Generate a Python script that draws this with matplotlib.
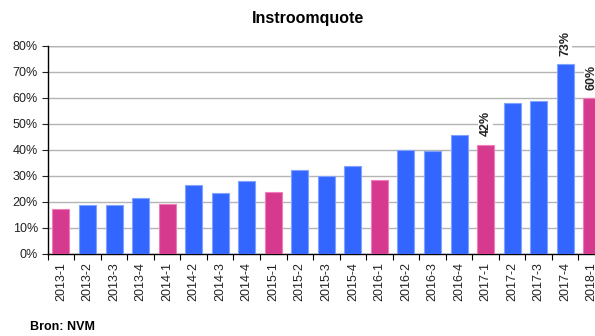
import numpy as np
import matplotlib.pyplot as plt
from matplotlib.ticker import FixedLocator, PercentFormatter

plt.rcParams['font.family'] = ['Liberation Sans', 'DejaVu Sans']

##### Data:

quarters = ['2013-1', '2013-2', '2013-3', '2013-4',
            '2014-1', '2014-2', '2014-3', '2014-4',
            '2015-1', '2015-2', '2015-3', '2015-4',
            '2016-1', '2016-2', '2016-3', '2016-4',
            '2017-1', '2017-2', '2017-3', '2017-4',
            '2018-1']
quote = [17.3, 18.8, 18.8, 21.4,
         19.4, 26.5, 23.3, 28.1,
         23.8, 32.2, 30.1, 34.0,
         28.6, 40.0, 39.6, 45.9,
         42.0, 58.1, 58.7, 73.0,
         60.0]
labelled = ['2017-1', '2017-4', '2018-1']

blue = '#3366FF'
pink = '#D63A8E'

##### Plot:

W, H = 595, 336
fig = plt.figure(figsize=(W / 100, H / 100), dpi=100)
# plot area runs a bit past the right edge, so the last bar is cut off
ax = fig.add_axes([47.7 / W, (H - 254) / H, (605 - 47.7) / W, (254 - 46) / H])

x = np.arange(len(quarters))
colors = [pink if q.endswith('-1') else blue for q in quarters]
edges = ['#F07CB8' if q.endswith('-1') else '#7FA3FF' for q in quarters]
ax.bar(x, quote, width=0.64, color=colors, edgecolor=edges, linewidth=0.8, zorder=3)

for xi, q, v in zip(x, quarters, quote):
    if q in labelled:
        ax.annotate(f'{v:.0f}%', xy=(xi, v), xytext=(0, 6), textcoords='offset points',
                    rotation=90, ha='center', va='bottom', fontsize=9,
                    fontweight='bold', color='#222222', annotation_clip=False,
                    bbox=dict(boxstyle='square,pad=0.1', fc='white', ec='none'),
                    zorder=4)

ax.set_xlim(-0.5, len(quarters) - 0.5)
ax.set_ylim(0, 80)
ax.yaxis.set_major_locator(FixedLocator(range(0, 81, 10)))
ax.yaxis.set_major_formatter(PercentFormatter(decimals=0))
ax.grid(axis='y', color='#B4B4B4', linewidth=1.0, zorder=0)
ax.axhline(80, color='#808080', linewidth=1.0, zorder=1)

ax.set_xticks(x)
ax.set_xticklabels(quarters, rotation=90, fontsize=9, color='#222222')
ax.set_xticks(np.arange(-0.5, len(quarters), 1), minor=True)
ax.tick_params(axis='x', which='major', length=0, pad=6)
ax.tick_params(axis='x', which='minor', length=4, width=0.8, direction='out')
ax.tick_params(axis='y', length=4, width=0.8, labelsize=9, pad=3, colors='#222222')

for side in ['top', 'right']:
    ax.spines[side].set_visible(False)
ax.spines['left'].set_linewidth(1.0)
ax.spines['bottom'].set_linewidth(1.0)

fig.text(308 / W, 1 - 19 / H, 'Instroomquote', ha='center', va='center',
         fontsize=11.5, fontweight='bold')
fig.text(30 / W, 1 - 327 / H, 'Bron: NVM', ha='left', va='center',
         fontsize=9, fontweight='bold')

fig.savefig('out.png', dpi=100)
